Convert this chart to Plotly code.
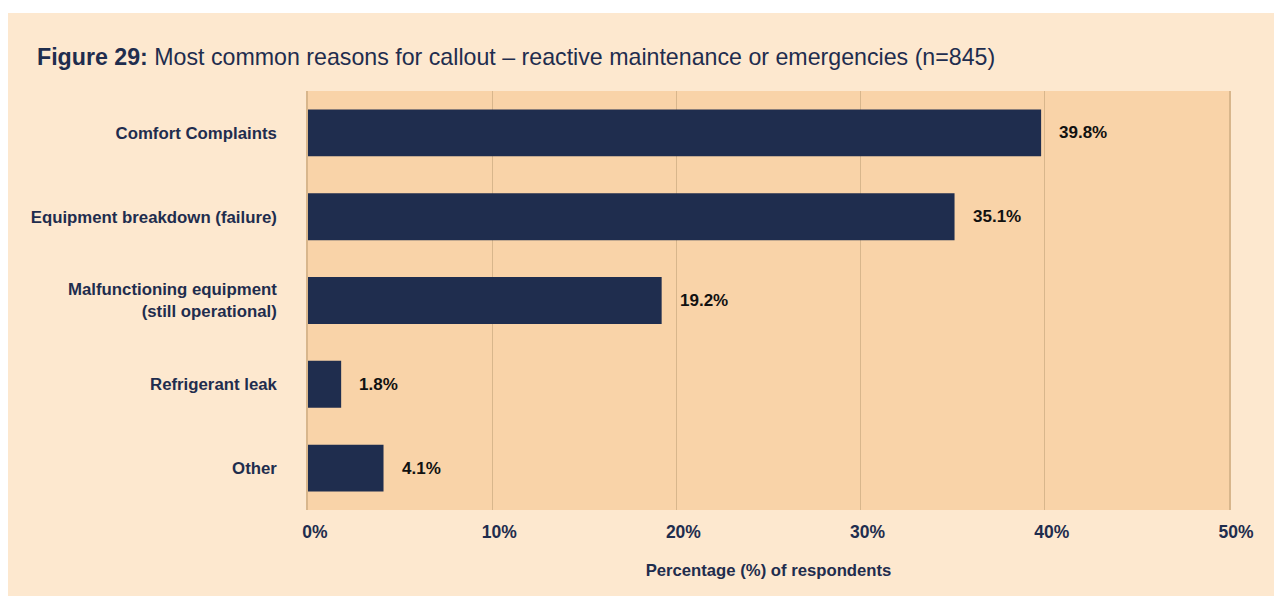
import plotly.graph_objects as go

categories = [
    "Comfort Complaints",
    "Equipment breakdown (failure)",
    "Malfunctioning equipment<br>(still operational)",
    "Refrigerant leak",
    "Other",
]
values = [39.8, 35.1, 19.2, 1.8, 4.1]
tick_vals = [0, 10, 20, 30, 40, 50]
tick_text = ["0%", "10%", "20%", "30%", "40%", "50%"]

NAVY = "#1F2D4E"
CREAM = "#FDE8CF"
PLOTBG = "#F9D3A8"
GRID = "#D8B68C"
FONT = "Liberation Sans, Arial, Helvetica, sans-serif"

fig = go.Figure()
fig.add_trace(go.Bar(
    x=values,
    y=categories,
    orientation="h",
    marker=dict(color=NAVY, line=dict(width=0)),
    width=0.56,
    hoverinfo="skip",
))

for c, v in zip(categories, values):
    fig.add_annotation(
        x=v, y=c, xref="x", yref="y",
        text=f"<b>{v:.1f}%</b>",
        showarrow=False, xanchor="left", yanchor="middle",
        xshift=16,
        font=dict(family=FONT, size=17, color="#111111"),
    )

W, H = 1282, 596
L, R, T, B = 300, 61, 83, 94
pw, ph = W - L - R, H - T - B


def px_x(px):
    return (px - L) / pw


def px_y(py):
    return (H - B - py) / ph


# thin white strip above the cream card
fig.add_shape(type="rect", xref="paper", yref="paper",
              x0=px_x(-5), x1=px_x(W + 5), y0=px_y(5), y1=px_y(-5),
              fillcolor="white", line=dict(width=0), layer="above")

fig.update_layout(
    width=W, height=H,
    margin=dict(l=L, r=R, t=T, b=B, pad=0),
    paper_bgcolor=CREAM,
    plot_bgcolor=PLOTBG,
    showlegend=False,
    bargap=0.44,
    font=dict(family=FONT, color=NAVY),
    title=dict(
        text="<b>Figure 29:</b> Most common reasons for callout – reactive maintenance or emergencies (n=845)",
        x=29 / W, xanchor="left", xref="container",
        y=1 - 49 / H, yanchor="middle", yref="container",
        font=dict(family=FONT, size=23.2, color=NAVY),
    ),
    xaxis=dict(
        range=[0, 50],
        tickvals=tick_vals,
        ticktext=tick_text,
        showgrid=True, gridcolor=GRID, gridwidth=1.2,
        zeroline=False,
        showline=False,
        ticks="",
        ticklabelstandoff=9,
        ticklabelshift=7,
        tickfont=dict(family=FONT, size=17.5, color=NAVY, weight="bold"),
        title=dict(text="<b>Percentage (%) of respondents</b>",
                   font=dict(family=FONT, size=16.7, color=NAVY),
                   standoff=23),
        fixedrange=True,
    ),
    yaxis=dict(
        categoryorder="array",
        categoryarray=categories,
        range=[4.5, -0.5],
        showgrid=False,
        zeroline=False,
        showline=True, mirror=True, linecolor=GRID, linewidth=1.5,
        ticks="",
        ticklabelstandoff=26,
        tickfont=dict(family=FONT, size=16.8, color=NAVY, weight="bold"),
        fixedrange=True,
    ),
)

fig.write_html("out.html")
